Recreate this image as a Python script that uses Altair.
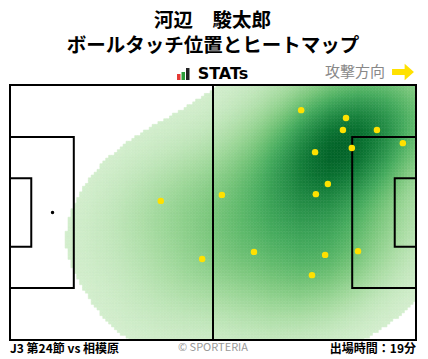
import altair as alt
import numpy as np
import pandas as pd

# ---- data (pitch metres, x: 0-105 left->right, y: 0-68 top->bottom)
touch_x = [75.3, 86.9, 86.1, 94.9, 101.6, 88.4, 78.9, 82.2, 79.1, 54.8, 63.1, 81.5, 90.0, 78.1, 39.0, 49.7]
touch_y = [6.7, 8.8, 12.0, 12.0, 15.5, 16.8, 17.9, 26.4, 29.1, 29.3, 44.5, 45.3, 44.3, 50.7, 30.9, 46.4]

title_lines = ["河辺　駿太郎", "ボールタッチ位置とヒートマップ"]
footer_left = "J3 第24節 vs 相模原"
footer_center = "© SPORTERIA"
footer_right = "出場時間：19分"
direction_label = "攻撃方向"

PL, PW = 105.0, 68.0
FONT = "Noto Sans CJK JP"

# ---- 2D Gaussian KDE derived from the touch points
pts = np.vstack([touch_x, touch_y])
n = pts.shape[1]
factor = 1.3 * n ** (-1.0 / 6.0)
cov = np.cov(pts) * factor ** 2
inv = np.linalg.inv(cov)
step = 0.75
gx = np.arange(0, PL, step)
gy = np.arange(0, PW, step)
GX, GY = np.meshgrid(gx + step / 2, gy + step / 2)
grid = np.vstack([GX.ravel(), GY.ravel()])
dens = np.zeros(grid.shape[1])
for i in range(n):
    d = grid - pts[:, i:i + 1]
    dens += np.exp(-0.5 * np.einsum("ij,ik,kj->j", d, inv, d))
dens /= dens.max()
heat = pd.DataFrame({
    "x": grid[0] - step / 2, "x2": np.minimum(grid[0] + step / 2, PL),
    "y": grid[1] - step / 2, "y2": np.minimum(grid[1] + step / 2, PW),
    "d": dens.round(4),
})
heat = heat[heat["d"] >= 0.035]

xs = alt.Scale(domain=[0, PL], nice=False, zero=False)
ys = alt.Scale(domain=[0, PW], nice=False, zero=False, reverse=True)
cs = alt.Scale(scheme="greens", domain=[0.035, 1])

heat_layer = alt.Chart(heat).mark_rect(strokeWidth=0.6).encode(
    x=alt.X("x:Q", scale=xs, axis=None),
    x2="x2:Q",
    y=alt.Y("y:Q", scale=ys, axis=None),
    y2="y2:Q",
    color=alt.Color("d:Q", scale=cs, legend=None),
    stroke=alt.Stroke("d:Q", scale=cs, legend=None),
)

# ---- pitch lines
boxes = pd.DataFrame({
    "x": [0, 0, 0, PL - 16.5, PL - 5.5],
    "x2": [PL, 16.5, 5.5, PL, PL],
    "y": [0, 13.84, 24.84, 13.84, 24.84],
    "y2": [PW, 54.16, 43.16, 54.16, 43.16],
})
box_layer = alt.Chart(boxes).mark_rect(fillOpacity=0, stroke="black", strokeWidth=2).encode(
    x=alt.X("x:Q", scale=xs, axis=None), x2="x2:Q",
    y=alt.Y("y:Q", scale=ys, axis=None), y2="y2:Q",
)
half = pd.DataFrame({"x": [PL / 2], "y": [0], "y2": [PW]})
half_layer = alt.Chart(half).mark_rule(color="black", strokeWidth=2).encode(
    x=alt.X("x:Q", scale=xs, axis=None),
    y=alt.Y("y:Q", scale=ys, axis=None), y2="y2:Q",
)
spot = pd.DataFrame({"x": [11.0], "y": [PW / 2]})
spot_layer = alt.Chart(spot).mark_circle(color="black", size=12, opacity=1).encode(
    x=alt.X("x:Q", scale=xs, axis=None), y=alt.Y("y:Q", scale=ys, axis=None),
)

# ---- touches
touches = pd.DataFrame({"x": touch_x, "y": touch_y})
touch_layer = alt.Chart(touches).mark_circle(color="#FFE100", size=42, opacity=1).encode(
    x=alt.X("x:Q", scale=xs, axis=None), y=alt.Y("y:Q", scale=ys, axis=None),
)

# ---- annotations
one = alt.Data(values=[{}])

def txt(text, x, y, size, weight="normal", color="black", align="center", font=FONT):
    return alt.Chart(one).mark_text(
        text=text, fontSize=size, fontWeight=weight, color=color, align=align,
        baseline="middle", font=font,
    ).encode(x=alt.value(x), y=alt.value(y))

t1 = txt(title_lines[0], 144, -64.5, 19.5, "bold", align="left")
t2 = txt(title_lines[1], 203, -39, 19.5, "bold")
stats = txt("STATs", 213, -11, 16, "bold", font="DejaVu Sans")
dirl = txt(direction_label, 345, -13, 15, "normal", color="#888888")
f1 = txt(footer_left, 0, 264, 12, "bold", align="left")
f2 = txt(footer_center, 203, 263, 11, "normal", color="#999999")
f3 = txt(footer_right, 406, 264, 12, "bold", align="right")

def bar(x, y, color):
    return alt.Chart(one).mark_rect(color=color).encode(
        x=alt.value(x), x2=alt.value(x + 3.5), y=alt.value(y), y2=alt.value(-5))
logo_layers = [bar(167, -11, "#e53935"), bar(171.5, -13, "#2e9d3a"), bar(176, -17, "#222222")]

arrow = alt.Chart(one).mark_point(
    shape="M-1,-0.28 L0.15,-0.28 L0.15,-0.75 L1,0 L0.15,0.75 L0.15,0.28 L-1,0.28 Z",
    filled=True, color="#FFE100", opacity=1, size=480, strokeWidth=0,
).encode(x=alt.value(393), y=alt.value(-13))

chart = alt.layer(
    heat_layer, box_layer, half_layer, spot_layer, touch_layer,
    t1, t2, stats, dirl, f1, f2, f3, *logo_layers, arrow,
).properties(
    width=406, height=255,
    autosize=alt.AutoSizeParams(type="none"),
    padding={"left": 2, "top": 77, "right": 4, "bottom": 19},
).configure_view(stroke=None)

chart.save("out.html", embed_options={"renderer": "svg", "actions": False})
